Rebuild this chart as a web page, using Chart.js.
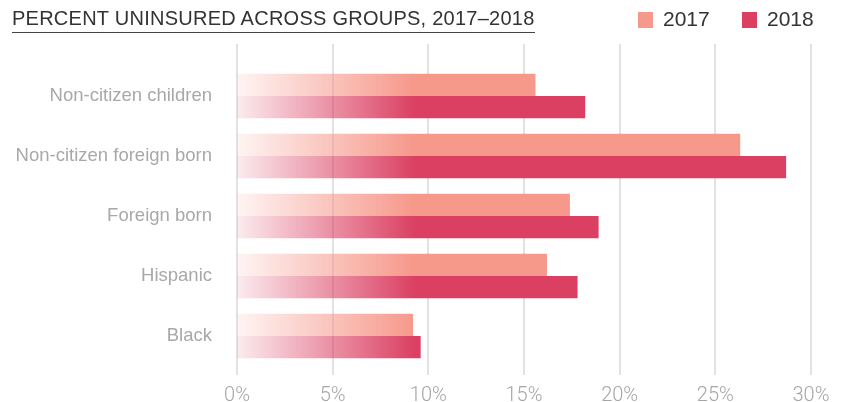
<!DOCTYPE html>
<html>
<head>
<meta charset="utf-8">
<script src="https://cdn.jsdelivr.net/npm/chart.js@4"></script>
<style>
  body { margin: 0; background: #fff; font-family: "Liberation Sans", Arial, sans-serif; }
  #wrap { position: relative; width: 845px; height: 402px; }
  #title { position: absolute; left: 12px; top: 7px; font-size: 20px; letter-spacing: 0.25px; color: #333;
           border-bottom: 1.5px solid #444; padding-bottom: 2px; white-space: nowrap; }
  .leg { position: absolute; top: 7px; font-size: 21px; color: #333; }
  .leg span { display: inline-block; width: 15px; height: 16px; margin-right: 10px; vertical-align: -2px; }
</style>
</head>
<body>
<div id="wrap">
  <canvas id="chart" width="845" height="402"></canvas>
  <div id="title">PERCENT UNINSURED ACROSS GROUPS, 2017–2018</div>
  <div class="leg" style="left:638px"><span style="background:#f6988a"></span>2017</div>
  <div class="leg" style="left:742px"><span style="background:#db4062"></span>2018</div>
</div>
<script>
const groups = ["Non-citizen children", "Non-citizen foreign born", "Foreign born", "Hispanic", "Black"];
const pct2017 = [15.6, 26.3, 17.4, 16.2, 9.2];
const pct2018 = [18.2, 28.7, 18.9, 17.8, 9.6];
const xTicks = [0, 5, 10, 15, 20, 25, 30];

// bars fade in from the axis up to about 9.3%
function fade(r, g, b) {
  return ctx => {
    const chart = ctx.chart;
    const x = chart.scales.x;
    if (!chart.chartArea || !x) return `rgb(${r},${g},${b})`;
    const grad = chart.ctx.createLinearGradient(x.getPixelForValue(0), 0, x.getPixelForValue(9.3), 0);
    grad.addColorStop(0, `rgba(${r},${g},${b},0.1)`);
    grad.addColorStop(1, `rgba(${r},${g},${b},1)`);
    return grad;
  };
}

// vertical grid lines, taller than the plot area
const gridLines = {
  id: 'gridLines',
  beforeDatasetsDraw(chart) {
    const x = chart.scales.x;
    const c = chart.ctx;
    c.save();
    c.strokeStyle = '#d9d9d9';
    c.lineWidth = 1.5;
    xTicks.forEach(v => {
      const px = Math.round(x.getPixelForValue(v));
      c.beginPath();
      c.moveTo(px, 44);
      c.lineTo(px, 375);
      c.stroke();
    });
    c.restore();
  }
};

new Chart(document.getElementById('chart'), {
  type: 'bar',
  data: {
    labels: groups,
    datasets: [
      { label: '2017', data: pct2017, backgroundColor: fade(246, 152, 138) },
      { label: '2018', data: pct2018, backgroundColor: fade(219, 64, 98) }
    ]
  },
  options: {
    indexAxis: 'y',
    responsive: false,
    animation: false,
    layout: { padding: { top: 66, right: 34, left: 0, bottom: 0 } },
    datasets: { bar: { barPercentage: 1, categoryPercentage: 0.74 } },
    plugins: { legend: { display: false }, tooltip: { enabled: false } },
    scales: {
      x: {
        min: 0, max: 30,
        afterBuildTicks: s => { s.ticks = xTicks.map(v => ({ value: v })); },
        grid: { display: false },
        border: { display: false },
        ticks: { padding: 10, color: '#a6a6a6', font: { family: 'Roboto', size: 20, weight: 300 },
                 callback: v => v + '%' },
        afterFit: s => { s.height = 36; }
      },
      y: {
        grid: { display: false },
        border: { display: false },
        ticks: { padding: 17, color: '#a8a8a8', font: { family: 'Liberation Sans', size: 18.5 } },
        afterFit: s => { s.width = 237; }
      }
    }
  },
  plugins: [gridLines]
});
</script>
</body>
</html>
